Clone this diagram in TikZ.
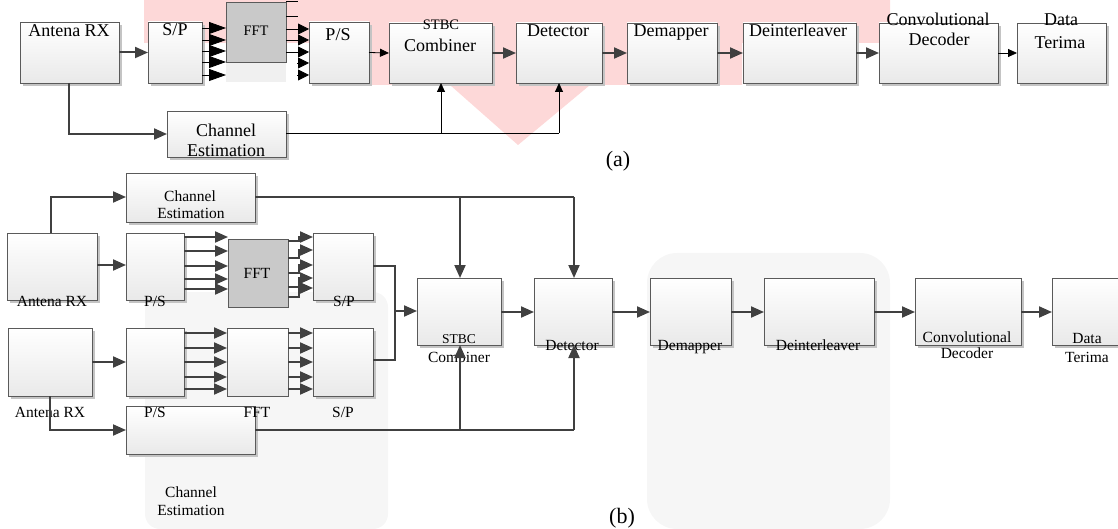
\documentclass[tikz,border=0pt]{standalone}
\usepackage{fontspec}
\setmainfont{Liberation Serif}
\usetikzlibrary{arrows.meta,shadows}
\definecolor{dgray}{HTML}{404040}
\definecolor{bord}{HTML}{5A5A5A}
\definecolor{boxbot}{HTML}{E9E9E9}
\definecolor{shad}{HTML}{C4C4C4}
\definecolor{fftg}{HTML}{C9C9C9}
\definecolor{wmpink}{HTML}{FDD8D8}
\definecolor{wmgray}{HTML}{F6F6F6}
\newcommand\mkbox[6][box]{\node[#1,anchor=north west,minimum width={(#4-#2)*1pt},minimum height={(#5-#3)*1pt}] (#6) at (#2,#3) {};}
\begin{document}
\begin{tikzpicture}[x=1pt,y=-1pt,
  box/.style={draw=bord, line width=0.9pt, top color=white, bottom color=boxbot,
    drop shadow={shadow xshift=3pt, shadow yshift=-3pt, fill=shad, opacity=1},
    inner sep=0pt, outer sep=0pt},
  fftbox/.style={draw=bord, line width=0.9pt, fill=fftg, inner sep=0pt, outer sep=0pt},
  wbox/.style={draw=bord, line width=0.9pt, top color=white, bottom color=boxbot, inner sep=0pt, outer sep=0pt},
  ta/.style={font=\fontsize{18}{20}\selectfont, inner sep=0pt, anchor=base},
  tas/.style={font=\fontsize{14.5}{16}\selectfont, inner sep=0pt, anchor=base},
  tb/.style={font=\fontsize{15.5}{18}\selectfont, inner sep=0pt, anchor=base},
  tbs/.style={font=\fontsize{13.5}{15}\selectfont, inner sep=0pt, anchor=base},
  tlab/.style={font=\fontsize{22}{24}\selectfont, inner sep=0pt, anchor=base},
  garrow/.style={draw=dgray, line width=2pt, -{Triangle[length=13pt,width=11pt]}},
  gline/.style={draw=dgray, line width=2pt},
  tarrow/.style={draw=black, line width=0.8pt, -{Triangle[length=9pt,width=8pt]}},
  tline/.style={draw=black, line width=0.8pt},
  barrow/.style={draw=black, line width=0.8pt, -{Triangle[length=17pt,width=12pt]}},
  sarrow/.style={draw=black, line width=0.8pt, -{Triangle[length=11pt,width=11pt]}},
]
\useasboundingbox (0,0) rectangle (1118,529);
% ---- background watermark ----
\fill[wmpink] (144,0) -- (890,0) -- (890,43) -- (742,43) -- (742,85) -- (590,85) -- (518,145) -- (450,85) -- (372,85) -- (372,43) -- (144,43) -- cycle;
\fill[wmgray, rounded corners=15pt] (145,529) -- (145,292) -- (388,292) -- (388,529) -- cycle;
\fill[wmgray, rounded corners=30pt] (647,529) -- (647,253) -- (890,253) -- (890,529) -- cycle;
\fill[black!6] (226,62) rectangle (286,82);

% ================= (a) =================
\mkbox{20}{22}{119}{83}{aant}
\mkbox{148}{22}{202}{83}{asp}
\mkbox[fftbox]{226}{2}{286}{62}{afft}
\mkbox{309}{22}{369}{83}{aps}
\mkbox{389}{23}{492}{83}{astbc}
\mkbox{516}{23}{602}{83}{adet}
\mkbox{627}{23}{717}{83}{adem}
\mkbox{743}{23}{856}{83}{adei}
\mkbox{879}{23}{998}{83}{aconv}
\mkbox{1017}{23}{1106}{83}{adata}
\mkbox{167}{111}{286}{157}{ache}

\node[ta] (ta1) at (69,37) {Antena RX};
\node[ta] (ta2) at (175,36) {S/P};
\node[tas] (ta3) at (256,36) {FFT};
\node[ta] (ta4) at (338,41) {P/S};
\node[tas] (ta5) at (441,30) {STBC};
\node[ta] (ta6) at (440,52) {Combiner};
\node[ta] (ta7) at (558,37) {Detector};
\node[ta] (ta8) at (671,37) {Demapper};
\node[ta] (ta9) at (798,37) {Deinterleaver};
\node[ta] (ta10) at (938,26) {Convolutional};
\node[ta] (ta11) at (939,46) {Decoder};
\node[ta] (ta12) at (1061,26) {Data};
\node[ta] (ta13) at (1060,49) {Terima};
\node[ta] (ta14) at (226,137) {Channel};
\node[ta] (ta15) at (226,157) {Estimation};
\node[tlab] (la) at (618,167) {(a)};

\draw[garrow] (aant.east) -- (asp.west);
\foreach \yy in {28,40,51,62,75} \draw[barrow] (asp.east |- 0,\yy) -- (afft.west |- 0,\yy);
\draw[tline] (afft.east |- 0,1) -- (298,1);
\draw[tline] (afft.east |- 0,16) -- (298,16);
\foreach \yy in {29,40,52} \draw[sarrow] (afft.east |- 0,\yy) -- (aps.west |- 0,\yy);
\foreach \yy in {63,75} \draw[sarrow] (297,\yy) -- (aps.west |- 0,\yy);
\draw[tarrow] (aps.east) -- (astbc.west);
\draw[garrow] (astbc.east) -- (adet.west);
\draw[garrow] (adet.east) -- (adem.west);
\draw[garrow] (adem.east) -- (adei.west);
\draw[garrow] (adei.east) -- (aconv.west);
\draw[tarrow] (aconv.east) -- (adata.west);
\draw[garrow] (aant.south -| 69,0) -- (69,134) -- (ache.west |- 0,134);
\coordinate (ajA) at (441,133);
\coordinate (ajB) at (559,133);
\draw[tline] (ache.east |- 0,133) -- (ajB);
\draw[tarrow] (ajA) -- (ajA |- astbc.south);
\draw[tarrow] (ajB) -- (ajB |- adet.south);

% ================= (b) =================
\mkbox{126}{173}{255}{222}{bche1}
\mkbox{7}{233}{97}{300}{bant1}
\mkbox{126}{233}{184}{300}{bps1}
\mkbox[fftbox]{228}{239}{288}{307}{bfft1}
\mkbox{313}{233}{373}{300}{bsp1}
\mkbox{8}{328}{92}{396}{bant2}
\mkbox{126}{328}{184}{396}{bps2}
\mkbox[wbox]{227}{328}{288}{396}{bfft2}
\mkbox{313}{328}{373}{396}{bsp2}
\mkbox{126}{406}{255}{454}{bche2}
\mkbox{417}{278}{501}{345}{bstbc}
\mkbox{534}{278}{612}{345}{bdet}
\mkbox{650}{278}{731}{345}{bdem}
\mkbox{764}{278}{874}{345}{bdei}
\mkbox{915}{278}{1021}{345}{bconv}
\mkbox{1052}{278}{1124}{345}{bdata}

\node[tb] (tb1) at (190,202) {Channel};
\node[tb] (tb2) at (191,219) {Estimation};
\node[tb] (tb3) at (52,306) {Antena RX};
\node[tb] (tb4) at (155,306) {P/S};
\node[tb] (tb5) at (344,306) {S/P};
\node[tb] (tb6) at (257,278) {FFT};
\node[tbs] (tb7) at (459,343) {STBC};
\node[tb] (tb8) at (459,362) {Combiner};
\node[tb] (tb9) at (572,350) {Detector};
\node[tb] (tb10) at (690,350) {Demapper};
\node[tb] (tb11) at (818,350) {Deinterleaver};
\node[tb] (tb12) at (967,342) {Convolutional};
\node[tb] (tb13) at (967,358) {Decoder};
\node[tb] (tb14) at (1087,343) {Data};
\node[tb] (tb15) at (1087,362) {Terima};
\node[tb] (tb16) at (50,417) {Antena RX};
\node[tb] (tb17) at (155,417) {P/S};
\node[tb] (tb18) at (257,417) {FFT};
\node[tb] (tb19) at (343,417) {S/P};
\node[tb] (tb20) at (191,497) {Channel};
\node[tb] (tb21) at (191,515) {Estimation};
\node[tlab] (lb) at (622,523) {(b)};

% upper branch
\draw[garrow] (bant1.north -| 51,0) -- (51,197) -- (bche1.west |- 0,197);
\draw[garrow] (bant1.east |- 0,265) -- (bps1.west |- 0,265);
\foreach \yy in {237,251,266,279,289} \draw[garrow] (bps1.east |- 0,\yy) -- (bfft1.west |- 0,\yy);
\foreach \yf/\ys in {241/237,258/250,273/265,287/278,297/288}
  \draw[garrow] (bfft1.east |- 0,\yf) -- (299,\yf) -- (299,\ys) -- (bsp1.west |- 0,\ys);
% lower branch
\draw[garrow] (bant2.east |- 0,362) -- (bps2.west |- 0,362);
\foreach \yy in {333,348,362,377,389} \draw[garrow] (bps2.east |- 0,\yy) -- (bfft2.west |- 0,\yy);
\foreach \yy in {333,348,362,377,389} \draw[garrow] (bfft2.east |- 0,\yy) -- (bsp2.west |- 0,\yy);
\draw[garrow] (bant2.south -| 50,0) -- (50,430) -- (bche2.west |- 0,430);
% merge into STBC
\coordinate (bm) at (395,311);
\draw[gline] (bsp1.east |- 0,266) -- (395,266) -- (395,360) -- (bsp2.east |- 0,360);
\draw[garrow] (bm) -- (bstbc.west |- bm);
% channel estimation feeds
\coordinate (bu1) at (460,197);
\coordinate (bu2) at (574,197);
\coordinate (bl1) at (460,430);
\coordinate (bl2) at (574,430);
\draw[gline] (bche1.east |- bu1) -- (bu2);
\draw[garrow] (bu1) -- (bu1 |- bstbc.north);
\draw[garrow] (bu2) -- (bu2 |- bdet.north);
\draw[gline] (bche2.east |- bl1) -- (bl2);
\draw[garrow] (bl1) -- (bl1 |- bstbc.south);
\draw[garrow] (bl2) -- (bl2 |- bdet.south);
% main chain
\draw[garrow] (bstbc.east |- 0,312) -- (bdet.west |- 0,312);
\draw[garrow] (bdet.east |- 0,312) -- (bdem.west |- 0,312);
\draw[garrow] (bdem.east |- 0,312) -- (bdei.west |- 0,312);
\draw[garrow] (bdei.east |- 0,312) -- (bconv.west |- 0,312);
\draw[garrow] (bconv.east |- 0,312) -- (bdata.west |- 0,312);
\end{tikzpicture}
\end{document}
